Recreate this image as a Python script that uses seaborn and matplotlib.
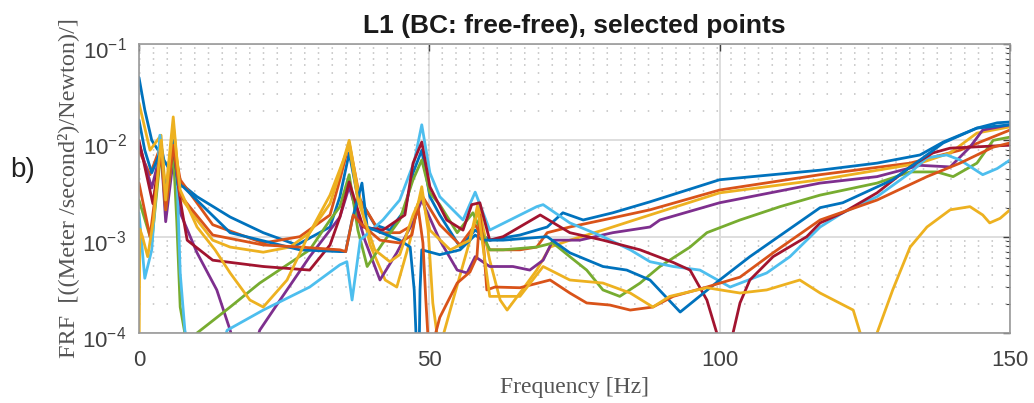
import pandas as pd
import matplotlib
matplotlib.use("Agg")
import matplotlib.pyplot as plt
import matplotlib.transforms as mtransforms
import seaborn as sns
from matplotlib.ticker import LogLocator, MultipleLocator, NullLocator, NullFormatter

sns.set_style("white")
plt.rcParams["font.family"] = ["Liberation Sans", "DejaVu Sans"]

# -----------------------------------------------------------------------------
# FRF curves (frequency in Hz, FRF in (m/s^2)/N)
# values below 1e-4 are off-axis dips
# -----------------------------------------------------------------------------
freq_blue_a = [0, 1.0, 2.2, 3.3, 3.8, 4.3, 5.3, 5.9, 7.1, 10.0, 15.7, 21.4, 27.2, 32.9,
               34.6, 36.2, 37.6, 40.6, 43.2, 45.8, 47.2, 48.7, 50.1, 51.8, 55.3, 57.9,
               60.4, 65.6, 70.3, 73.0, 76.5, 81.6, 88.0, 100.0, 117.3, 127.1, 134.5,
               138.5, 144.3, 147.8, 150]
frf_blue_a = [4.5e-2, 2.07e-2, 1.0e-2, 7.9e-3, 8.9e-3, 6.25e-3, 4.9e-3, 5.5e-3, 3.6e-3, 2.6e-3,
              1.6e-3, 1.1e-3, 8.2e-4, 1.26e-3, 2.6e-3, 7.4e-3, 2.7e-3, 1.33e-3, 1.17e-3,
              1.9e-3, 4.6e-3, 7.9e-3, 2.6e-3, 1.68e-3, 7.8e-4, 1.17e-3, 9.2e-4, 1.04e-3,
              1.26e-3, 1.77e-3, 1.49e-3, 1.77e-3, 2.3e-3, 3.9e-3, 4.9e-3, 5.8e-3, 7.05e-3,
              9.6e-3, 1.34e-2, 1.52e-2, 1.55e-2]

freq_blue_b = [0, 1.0, 2.2, 3.8, 4.6, 5.9, 6.7, 7.6, 15.7, 27.7, 34.6, 35.6, 36.7, 38.4,
               39.3, 44.9, 46.7, 47.4, 47.7, 47.9, 48.2, 48.4, 48.7, 51.8, 55.3, 57.9,
               59.2, 62.7, 70.3, 74.2, 79.9, 84.0, 88.0, 93.2, 100.0, 105.2, 117.3,
               121.2, 129.8, 134.5, 138.5, 144.3, 150]
frf_blue_b = [1.63e-2, 7.9e-3, 4.6e-3, 7.9e-3, 2.4e-3, 1.0e-2, 3.45e-3, 3.3e-3, 1.1e-3, 7.3e-4,
              7.0e-4, 7.0e-4, 1.49e-3, 3.6e-3, 1.26e-3, 9.2e-4, 7.8e-4, 2.8e-4, 1.0e-4, 4e-5,
              4e-5, 2.8e-4, 7.3e-4, 6.5e-4, 7.3e-4, 1.04e-3, 9.2e-4, 9.2e-4, 1.0e-3, 6.8e-4,
              4.9e-4, 4.5e-4, 3.55e-4, 1.65e-4, 3.55e-4, 6.2e-4, 2.0e-3, 2.25e-3, 3.9e-3,
              6.25e-3, 9.4e-3, 1.34e-2, 1.45e-2]

freq_orange_a = [0, 1.9, 3.8, 4.6, 5.9, 7.1, 12.7, 21.4, 27.7, 32.9, 34.6, 36.2, 38.1, 41.5,
                 44.9, 47.2, 48.7, 51.8, 55.3, 57.9, 60.4, 65.6, 68.5, 70.3, 74.2, 79.9,
                 88.0, 100.0, 117.3, 132.8, 141.4, 150]
frf_orange_a = [7.9e-3, 4.4e-3, 8.9e-3, 2.7e-3, 1.0e-2, 3.9e-3, 1.33e-3, 8.6e-4, 1.0e-3,
                1.68e-3, 3.9e-3, 9.4e-3, 2.4e-3, 1.1e-3, 1.1e-3, 1.33e-3, 2.7e-3, 1.33e-3,
                8.2e-4, 1.33e-3, 7.3e-4, 7.3e-4, 7.8e-4, 1.1e-3, 1.26e-3, 1.49e-3, 1.9e-3,
                3.05e-3, 4.4e-3, 5.8e-3, 7.9e-3, 1.28e-2]

freq_orange_b = [0, 1.9, 3.8, 4.6, 5.9, 7.1, 12.7, 21.4, 27.7, 34.6, 35.6, 36.9, 38.4, 41.5,
                 44.9, 47.0, 48.0, 48.9, 49.4, 49.8, 50.5, 51.1, 51.8, 54.8, 57.0, 58.2,
                 58.7, 59.4, 59.9, 61.3, 65.6, 70.8, 74.2, 77.1, 81.1, 84.6, 88.5, 92.0,
                 97.8, 103.5, 109.2, 117.3, 127.1, 135.7, 141.4, 147.1, 150]
frf_orange_b = [3.6e-3, 1.0e-3, 7.9e-3, 1.9e-3, 8.9e-3, 2.7e-3, 1.04e-3, 8.2e-4, 7.8e-4,
                7.3e-4, 7.0e-4, 1.68e-3, 1.33e-3, 9.2e-4, 8.6e-4, 1.04e-3, 2.15e-3, 8.6e-4,
                2.2e-4, 8.5e-5, 4e-5, 1.0e-4, 1.45e-4, 3.3e-4, 4.3e-4, 6.2e-4, 1.68e-3,
                7.3e-4, 2.8e-4, 3.0e-4, 2.95e-4, 3.55e-4, 2.6e-4, 2.05e-4, 1.95e-4, 1.73e-4,
                1.86e-4, 2.4e-4, 3.0e-4, 3.8e-4, 6.8e-4, 1.49e-3, 2.4e-3, 4.2e-3, 5.8e-3,
                8.5e-3, 9.4e-3]

freq_yellow_a = [0, 1.9, 3.8, 4.6, 5.9, 7.1, 10.0, 12.7, 15.7, 21.4, 26.0, 29.4, 32.9, 34.6,
                 36.2, 37.7, 39.8, 42.4, 44.4, 46.7, 48.7, 49.8, 50.6, 51.3, 51.8, 52.5,
                 53.6, 57.0, 58.4, 60.4, 62.2, 63.4, 65.6, 68.5, 70.8, 74.2, 79.9, 88.0,
                 100.0, 117.3, 129.8, 134.5, 139.7, 144.3, 150]
frf_yellow_a = [2.45e-2, 7.9e-3, 1.13e-2, 2.85e-3, 1.75e-2, 2.6e-3, 1.49e-3, 9.2e-4, 7.8e-4,
                6.9e-4, 7.8e-4, 1.1e-3, 2.2e-3, 4.6e-3, 1.0e-2, 3.05e-3, 8.2e-4, 3.55e-4,
                3.0e-4, 9.2e-4, 3.3e-3, 1.17e-3, 2.05e-4, 1.0e-4, 4e-5, 1.0e-4, 1.73e-4,
                9.2e-4, 2.25e-3, 5.7e-4, 2.2e-4, 1.73e-4, 2.6e-4, 4.5e-4, 7.8e-4, 9.2e-4,
                1.17e-3, 1.68e-3, 2.85e-3, 3.9e-3, 5.2e-3, 5.8e-3, 7.4e-3, 1.19e-2, 1.38e-2]

freq_yellow_b = [0, 0.15, 0.6, 1.5, 2.5, 3.8, 4.6, 5.9, 7.1, 10.0, 13.1, 15.7, 19.1, 21.4,
                 25.5, 29.4, 32.9, 36.2, 37.7, 40.6, 43.2, 44.9, 47.2, 48.7, 50.1, 53.6,
                 57.0, 58.4, 60.4, 65.6, 69.6, 74.2, 79.9, 84.6, 88.5, 91.4, 97.8, 103.5,
                 108.1, 113.8, 117.3, 123.0, 124.2, 125.0, 126.4, 127.1, 129.8, 132.8,
                 135.7, 139.7, 143.1, 145.3, 146.5, 148.3, 150]
frf_yellow_b = [4e-5, 1.2e-3, 1.0e-3, 6.2e-4, 1.5e-3, 1.0e-2, 2.4e-3, 1.45e-2, 3.05e-3,
                1.26e-3, 7.3e-4, 4.2e-4, 2.2e-4, 1.86e-4, 3.55e-4, 1.1e-3, 2.7e-3, 8.9e-3,
                2.4e-3, 7.3e-4, 5.5e-4, 6.5e-4, 1.68e-3, 2.7e-3, 1.17e-3, 7.3e-4, 9.2e-4,
                1.9e-3, 2.4e-4, 2.4e-4, 4.9e-4, 3.55e-4, 3.3e-4, 2.6e-4, 1.86e-4, 2.4e-4,
                2.95e-4, 2.6e-4, 2.8e-4, 3.55e-4, 2.6e-4, 1.73e-4, 1.0e-4, 4e-5, 4e-5,
                1.0e-4, 2.8e-4, 7.8e-4, 1.26e-3, 1.9e-3, 2.05e-3, 1.68e-3, 1.39e-3,
                1.55e-3, 1.9e-3]

freq_purple = [0, 2.2, 3.8, 4.6, 5.9, 7.1, 10.0, 13.4, 15.7, 16.4, 20.0, 20.8, 24.3, 29.4,
               32.9, 34.6, 36.2, 38.9, 41.5, 44.4, 47.4, 48.7, 51.8, 54.8, 56.5, 57.9, 60.4,
               64.4, 67.3, 69.6, 71.3, 75.9, 81.6, 88.0, 89.7, 100.0, 117.3, 127.1, 134.5,
               139.7, 143.1, 145.3, 150]
frf_purple = [9.4e-3, 3.2e-3, 7.9e-3, 1.43e-3, 6.25e-3, 1.77e-3, 6.8e-4, 2.8e-4, 1.07e-4,
              7.5e-5, 7.5e-5, 1.07e-4, 2.2e-4, 6.2e-4, 1.17e-3, 1.6e-3, 3.3e-3, 9.2e-4,
              3.55e-4, 6.8e-4, 1.5e-3, 2.4e-3, 9.2e-4, 4.5e-4, 4.2e-4, 6.2e-4, 4.9e-4,
              4.9e-4, 4.5e-4, 5.7e-4, 9.2e-4, 9.2e-4, 1.1e-3, 1.26e-3, 1.49e-3, 2.25e-3,
              3.6e-3, 4.2e-3, 5.5e-3, 5.3e-3, 8.5e-3, 1.28e-2, 1.45e-2]

freq_green = [0, 2.2, 3.8, 4.6, 5.9, 6.5, 7.1, 7.9, 8.3, 9.6, 10.0, 15.7, 20.8, 29.4, 32.9,
              34.6, 36.2, 37.7, 39.3, 42.0, 44.9, 47.2, 48.7, 50.1, 51.8, 54.8, 57.5, 60.4,
              62.7, 68.5, 71.3, 74.2, 77.1, 79.9, 82.8, 86.3, 89.7, 94.9, 97.8, 103.5,
              110.4, 117.3, 127.1, 132.8, 137.4, 140.2, 144.3, 147.1, 150]
frf_green = [2.4e-3, 8.8e-4, 7.9e-3, 1.9e-3, 7.9e-3, 1.49e-3, 1.86e-4, 1.0e-4, 7.5e-5,
             7.5e-5, 1.0e-4, 1.86e-4, 3.3e-4, 7.3e-4, 1.49e-3, 2.05e-3, 4.4e-3, 1.17e-3,
             4.9e-4, 8.6e-4, 1.49e-3, 3.9e-3, 6.25e-3, 2.85e-3, 2.15e-3, 1.1e-3, 1.77e-3,
             7.3e-4, 7.3e-4, 7.8e-4, 8.6e-4, 6.2e-4, 4.5e-4, 2.8e-4, 2.4e-4, 3.3e-4,
             4.9e-4, 7.8e-4, 1.1e-3, 1.49e-3, 2.05e-3, 2.7e-3, 3.6e-3, 4.7e-3, 4.7e-3,
             4.2e-3, 5.8e-3, 1.0e-2, 1.08e-2]

freq_light_blue = [0, 1.0, 2.2, 3.6, 4.6, 5.9, 6.5, 7.1, 7.9, 8.4, 14.3, 15.2, 21.4, 29.4,
                   34.6, 35.8, 36.7, 38.1, 42.0, 44.9, 47.4, 48.7, 50.1, 51.8, 55.8, 57.9,
                   60.4, 68.5, 69.6, 74.2, 79.9, 84.6, 88.0, 92.0, 96.6, 101.8, 108.1,
                   112.1, 117.3, 121.2, 127.1, 132.8, 135.7, 139.1, 141.4, 145.3, 147.8, 150]
frf_light_blue = [1.77e-3, 3.7e-4, 7.3e-4, 1.13e-2, 2.4e-3, 1.0e-2, 5.3e-3, 4.2e-4, 1.07e-4,
                  7.5e-5, 7.5e-5, 1.07e-4, 1.73e-4, 3.0e-4, 5.1e-4, 5.5e-4, 2.2e-4, 9.2e-4,
                  1.49e-3, 2.4e-3, 6.0e-3, 1.45e-2, 4.6e-3, 2.6e-3, 1.49e-3, 2.9e-3, 1.17e-3,
                  2.05e-3, 2.15e-3, 1.39e-3, 1.0e-3, 7.3e-4, 5.5e-4, 4.9e-4, 4.5e-4, 3.0e-4,
                  4.2e-4, 6.2e-4, 1.26e-3, 1.77e-3, 2.6e-3, 4.6e-3, 6.6e-3, 7.05e-3, 6.25e-3,
                  4.4e-3, 5.1e-3, 6.25e-3]

freq_dark_red = [0, 2.4, 3.8, 4.6, 5.9, 7.1, 8.3, 12.7, 21.4, 29.4, 32.9, 34.6, 36.2, 38.6,
                 42.0, 45.8, 47.2, 48.7, 50.1, 53.0, 55.8, 57.3, 58.7, 60.4, 62.7, 69.1,
                 74.2, 79.9, 86.3, 92.0, 94.9, 97.8, 99.5, 100.0, 101.8, 102.3, 103.5,
                 105.2, 109.2, 115.0, 117.3, 121.2, 127.1, 132.8, 136.7, 139.7, 150]
frf_dark_red = [1.0e-2, 2.2e-3, 8.9e-3, 2.15e-3, 8.9e-3, 2.4e-3, 9.2e-4, 5.7e-4, 4.9e-4,
                4.5e-4, 8.2e-4, 1.6e-3, 3.7e-3, 1.26e-3, 1.17e-3, 1.68e-3, 5.8e-3, 9.6e-3,
                3.3e-3, 1.49e-3, 1.17e-3, 2.15e-3, 2.25e-3, 9.2e-4, 1.0e-3, 1.68e-3, 1.1e-3,
                9.2e-4, 7.3e-4, 5.4e-4, 4.5e-4, 2.2e-4, 1.0e-4, 7.5e-5, 7.5e-5, 1.0e-4,
                2.05e-4, 3.55e-4, 6.2e-4, 1.0e-3, 1.39e-3, 1.77e-3, 2.85e-3, 5.3e-3, 7.4e-3,
                8.3e-3, 8.9e-3]

# MATLAB default line colours
colors = {
    "blue_a": "#0072BD", "orange_a": "#D95319", "yellow_a": "#EDB120",
    "purple": "#7E2F8E", "green": "#77AC30", "light_blue": "#4DBEEE",
    "dark_red": "#A2142F", "blue_b": "#0072BD", "orange_b": "#D95319",
    "yellow_b": "#EDB120",
}

curves = {
    "blue_a": (freq_blue_a, frf_blue_a),
    "orange_a": (freq_orange_a, frf_orange_a),
    "yellow_a": (freq_yellow_a, frf_yellow_a),
    "purple": (freq_purple, frf_purple),
    "green": (freq_green, frf_green),
    "light_blue": (freq_light_blue, frf_light_blue),
    "dark_red": (freq_dark_red, frf_dark_red),
    "blue_b": (freq_blue_b, frf_blue_b),
    "orange_b": (freq_orange_b, frf_orange_b),
    "yellow_b": (freq_yellow_b, frf_yellow_b),
}

df = pd.concat(
    [pd.DataFrame({"curve": k, "freq": f, "frf": v}) for k, (f, v) in curves.items()],
    ignore_index=True,
)

# -----------------------------------------------------------------------------
# Figure
# -----------------------------------------------------------------------------
fig = plt.figure(figsize=(10.34, 4.03), dpi=100)
ax = fig.add_axes([0.1344, 0.1737, 0.8424, 0.7171])

sns.lineplot(
    data=df, x="freq", y="frf", hue="curve", hue_order=list(curves),
    palette=colors, estimator=None, sort=False, linewidth=2.0,
    legend=False, ax=ax,
)

ax.set_yscale("log")
ax.set_xlim(0, 150)
ax.set_ylim(1e-4, 1e-1)
ax.xaxis.set_major_locator(MultipleLocator(50))
ax.xaxis.set_minor_locator(NullLocator())
ax.yaxis.set_major_locator(LogLocator(base=10))
ax.yaxis.set_minor_locator(LogLocator(base=10, subs=range(2, 10)))
ax.yaxis.set_minor_formatter(NullFormatter())

ax.set_axisbelow(True)
ax.grid(which="major", color="#dedede", linewidth=1.4, linestyle="-")
ax.grid(which="minor", axis="y", color="#c0c0c0", linewidth=1.1, linestyle=(0, (1, 8)))

ax.tick_params(which="both", direction="in", top=True, right=True,
               color="#404040", labelcolor="#404040", labelsize=16)
ax.tick_params(which="major", length=5, width=1.0)
ax.tick_params(which="minor", length=3, width=0.8)
ax.tick_params(axis="x", pad=12)
ax.tick_params(axis="y", pad=9)
for sp in ax.spines.values():
    sp.set_color("#999999")
    sp.set_linewidth(1.2)

# MATLAB centres the "10" of each decade label slightly below the tick
shift = mtransforms.ScaledTranslation(0, -4 / 100, fig.dpi_scale_trans)
for lab in ax.get_yticklabels():
    lab.set_transform(lab.get_transform() + shift)

ax.set_title("L1 (BC: free-free), selected points", fontsize=19,
             fontweight="bold", pad=8, color="#1a1a1a")

serif = ["Liberation Serif", "DejaVu Serif"]
ax.set_xlabel("Frequency [Hz]", family=serif, fontsize=17, color="#555555", va="center")
ax.xaxis.set_label_coords(0.5, -0.19)
ax.set_ylabel("FRF  [((Meter /second\u00b2)/Newton)/]", family=serif, fontsize=17.5,
              color="#555555", va="center")
ax.yaxis.set_label_coords(-0.0815, 0.5)

fig.text(23 / 1034, 1 - 170 / 403, "b)", fontsize=20, ha="center", va="center", color="#222222")

fig.savefig("out.png", dpi=100)
